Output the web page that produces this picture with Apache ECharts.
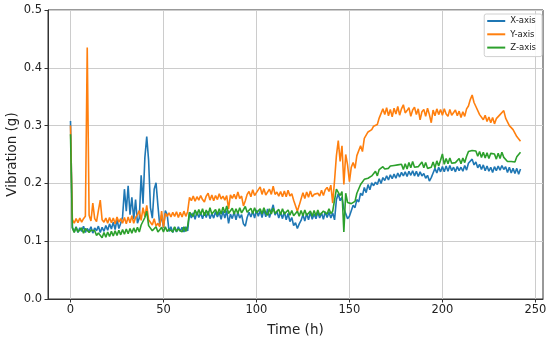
<!DOCTYPE html>
<html>
<head>
<meta charset="utf-8">
<script src="https://cdn.jsdelivr.net/npm/echarts@6/dist/echarts.min.js"></script>
<style>
html,body{margin:0;padding:0;background:#fff;}
#c{width:550px;height:338px;}
</style>
</head>
<body>
<div id="c"></div>
<script>
// Hour index of each sample
const time = Array.from({length: 243}, (_, i) => i);

const xTicks = [0, 50, 100, 150, 200, 250];
const seriesNames = ['X-axis', 'Y-axis', 'Z-axis'];

const xAxisVals = [
0.308,0.124,0.116,0.125,0.115,0.123,0.117,0.126,0.115,0.122,
0.117,0.125,0.114,0.123,0.118,0.126,0.115,0.124,0.117,0.127,
0.119,0.130,0.121,0.133,0.120,0.138,0.122,0.131,0.142,0.190,
0.152,0.196,0.146,0.176,0.138,0.172,0.131,0.140,0.214,0.165,
0.245,0.281,0.240,0.158,0.140,0.190,0.201,0.162,0.127,0.145,
0.123,0.153,0.146,0.117,0.125,0.115,0.124,0.116,0.125,0.117,
0.124,0.116,0.125,0.118,0.150,0.140,0.149,0.138,0.151,0.141,
0.149,0.139,0.150,0.141,0.152,0.139,0.148,0.140,0.151,0.142,
0.150,0.138,0.152,0.140,0.153,0.131,0.147,0.139,0.151,0.137,
0.150,0.140,0.146,0.130,0.126,0.141,0.150,0.142,0.152,0.140,
0.154,0.143,0.153,0.141,0.155,0.142,0.156,0.141,0.152,0.163,
0.145,0.152,0.140,0.150,0.139,0.151,0.137,0.148,0.134,0.141,
0.127,0.132,0.122,0.130,0.136,0.146,0.135,0.148,0.137,0.150,
0.138,0.147,0.139,0.150,0.140,0.149,0.138,0.151,0.141,0.150,
0.140,0.149,0.137,0.172,0.182,0.170,0.176,0.156,0.158,0.139,
0.143,0.142,0.162,0.158,0.172,0.168,0.183,0.179,0.193,0.184,
0.198,0.189,0.201,0.196,0.202,0.198,0.208,0.200,0.210,0.205,
0.213,0.206,0.215,0.208,0.216,0.209,0.218,0.211,0.219,0.213,
0.220,0.212,0.221,0.214,0.222,0.213,0.221,0.212,0.220,0.213,
0.217,0.209,0.214,0.204,0.210,0.218,0.226,0.218,0.228,0.220,
0.229,0.220,0.230,0.221,0.231,0.222,0.228,0.220,0.229,0.222,
0.228,0.221,0.231,0.223,0.235,0.233,0.242,0.232,0.237,0.227,
0.233,0.224,0.232,0.222,0.230,0.221,0.228,0.219,0.229,0.222,
0.230,0.223,0.231,0.224,0.229,0.219,0.228,0.218,0.226,0.217,
0.226,0.216,0.225
];

const yAxisVals = [
0.300,0.138,0.131,0.139,0.132,0.140,0.133,0.139,0.143,0.435,
0.145,0.135,0.166,0.139,0.134,0.153,0.171,0.137,0.133,0.140,
0.131,0.141,0.132,0.140,0.130,0.142,0.133,0.139,0.131,0.141,
0.130,0.142,0.132,0.144,0.131,0.141,0.146,0.153,0.136,0.158,
0.142,0.162,0.137,0.140,0.128,0.139,0.126,0.131,0.125,0.152,
0.124,0.148,0.143,0.149,0.142,0.150,0.143,0.151,0.141,0.150,
0.142,0.152,0.143,0.151,0.176,0.170,0.178,0.169,0.177,0.171,
0.179,0.172,0.168,0.178,0.183,0.171,0.180,0.170,0.179,0.172,
0.182,0.173,0.178,0.171,0.179,0.156,0.180,0.174,0.181,0.173,
0.185,0.174,0.178,0.161,0.170,0.181,0.186,0.177,0.189,0.179,
0.184,0.182,0.194,0.181,0.191,0.180,0.183,0.190,0.181,0.195,
0.181,0.185,0.178,0.186,0.177,0.187,0.177,0.188,0.178,0.182,
0.171,0.170,0.152,0.162,0.173,0.184,0.174,0.185,0.176,0.187,
0.177,0.181,0.179,0.183,0.178,0.188,0.179,0.189,0.193,0.186,
0.197,0.166,0.205,0.248,0.274,0.238,0.265,0.198,0.250,0.232,
0.203,0.228,0.236,0.226,0.248,0.249,0.265,0.255,0.278,0.277,
0.289,0.292,0.293,0.299,0.299,0.302,0.313,0.315,0.329,0.319,
0.331,0.317,0.328,0.315,0.330,0.320,0.333,0.318,0.329,0.336,
0.322,0.326,0.331,0.316,0.327,0.332,0.319,0.329,0.310,0.324,
0.328,0.316,0.330,0.319,0.305,0.327,0.317,0.329,0.319,0.328,
0.318,0.329,0.320,0.316,0.328,0.318,0.315,0.327,0.317,0.325,
0.314,0.324,0.316,0.329,0.334,0.345,0.353,0.340,0.333,0.330,
0.319,0.321,0.310,0.318,0.307,0.315,0.305,0.314,0.303,0.312,
0.309,0.319,0.317,0.326,0.313,0.311,0.300,0.302,0.293,0.293,
0.281,0.282,0.273
];

const zAxisVals = [
0.285,0.123,0.115,0.124,0.116,0.119,0.123,0.114,0.122,0.124,
0.115,0.119,0.116,0.118,0.110,0.114,0.111,0.106,0.115,0.107,
0.116,0.108,0.117,0.109,0.118,0.110,0.119,0.111,0.120,0.112,
0.121,0.113,0.122,0.114,0.123,0.115,0.124,0.116,0.128,0.125,
0.141,0.152,0.127,0.127,0.118,0.121,0.125,0.116,0.120,0.124,
0.116,0.125,0.117,0.121,0.124,0.116,0.125,0.117,0.121,0.124,
0.116,0.125,0.117,0.126,0.150,0.147,0.143,0.154,0.145,0.155,
0.146,0.156,0.144,0.154,0.145,0.158,0.147,0.144,0.155,0.146,
0.156,0.147,0.159,0.149,0.161,0.148,0.146,0.157,0.147,0.156,
0.148,0.158,0.149,0.146,0.160,0.150,0.147,0.157,0.148,0.158,
0.149,0.152,0.156,0.147,0.158,0.149,0.145,0.156,0.147,0.157,
0.148,0.150,0.155,0.146,0.156,0.147,0.149,0.154,0.145,0.153,
0.144,0.147,0.152,0.143,0.153,0.144,0.154,0.145,0.148,0.152,
0.143,0.153,0.144,0.154,0.145,0.148,0.152,0.155,0.147,0.156,
0.148,0.152,0.151,0.190,0.187,0.179,0.186,0.116,0.183,0.167,
0.166,0.165,0.168,0.169,0.183,0.185,0.198,0.197,0.207,0.205,
0.209,0.209,0.213,0.212,0.221,0.213,0.224,0.221,0.229,0.225,
0.228,0.226,0.230,0.228,0.231,0.229,0.232,0.230,0.233,0.224,
0.234,0.225,0.236,0.227,0.238,0.228,0.231,0.229,0.232,0.237,
0.227,0.236,0.226,0.229,0.228,0.237,0.227,0.239,0.230,0.240,
0.251,0.233,0.243,0.234,0.244,0.235,0.238,0.236,0.239,0.243,
0.234,0.244,0.236,0.247,0.255,0.253,0.257,0.255,0.256,0.247,
0.255,0.245,0.254,0.244,0.253,0.243,0.252,0.250,0.251,0.242,
0.252,0.243,0.254,0.245,0.247,0.238,0.241,0.238,0.240,0.237,
0.246,0.243,0.254
];

const colors = ['#1f77b4', '#ff7f0e', '#2ca02c'];
const valueSets = [xAxisVals, yAxisVals, zAxisVals];

const chart = echarts.init(document.getElementById('c'), null, {renderer: 'canvas'});
const textColor = '#222';
const fontFam = '"DejaVu Sans", sans-serif';

chart.setOption({
  animation: false,
  backgroundColor: '#fff',
  textStyle: {fontFamily: fontFam},
  grid: {
    left: 48, right: 7, top: 10, bottom: 39,
    containLabel: false,
    outerBoundsMode: 'none',
    show: true, borderColor: '#333', borderWidth: 1, backgroundColor: 'transparent'
  },
  legend: {
    orient: 'vertical',
    right: 8, top: 14,
    data: seriesNames,
    icon: 'rect',
    itemWidth: 18, itemHeight: 2,
    itemGap: 3.3,
    padding: [2, 6, 4, 3],
    backgroundColor: 'rgba(255,255,255,0.85)',
    borderColor: '#d0d0d0', borderWidth: 1, borderRadius: 2,
    textStyle: {fontSize: 8.5, color: textColor, fontFamily: fontFam, lineHeight: 10}
  },
  xAxis: {
    type: 'value',
    min: -12.1, max: 254.1,
    name: 'Time (h)', nameLocation: 'middle', nameGap: 24,
    nameMoveOverlap: false,
    nameTextStyle: {fontSize: 13.5, color: textColor, fontFamily: fontFam},
    axisLine: {show: true, onZero: false, lineStyle: {color: '#333', width: 1}},
    axisTick: {show: true, length: 3.5, customValues: xTicks, lineStyle: {color: '#333'}},
    axisLabel: {customValues: xTicks, fontSize: 11.5, color: textColor, margin: 5, fontFamily: fontFam},
    splitLine: {show: true, lineStyle: {color: '#cccccc', width: 1}}
  },
  yAxis: {
    type: 'value',
    min: 0, max: 0.5, interval: 0.1,
    name: 'Vibration (g)', nameLocation: 'middle', nameGap: 29,
    nameMoveOverlap: false,
    nameTextStyle: {fontSize: 13.5, color: textColor, fontFamily: fontFam},
    axisLine: {show: true, onZero: false, lineStyle: {color: '#333', width: 1}},
    axisTick: {show: true, length: 3.5, lineStyle: {color: '#333'}},
    axisLabel: {fontSize: 11.5, color: textColor, margin: 6, fontFamily: fontFam,
      formatter: v => v.toFixed(1)},
    splitLine: {show: true, lineStyle: {color: '#cccccc', width: 1}}
  },
  series: seriesNames.map((name, k) => ({
    name: name,
    type: 'line',
    data: time.map((t, i) => [t, valueSets[k][i]]),
    showSymbol: false,
    symbol: 'none',
    color: colors[k],
    lineStyle: {width: 1.6, color: colors[k]},
    emphasis: {disabled: true}
  }))
});
</script>
</body>
</html>
